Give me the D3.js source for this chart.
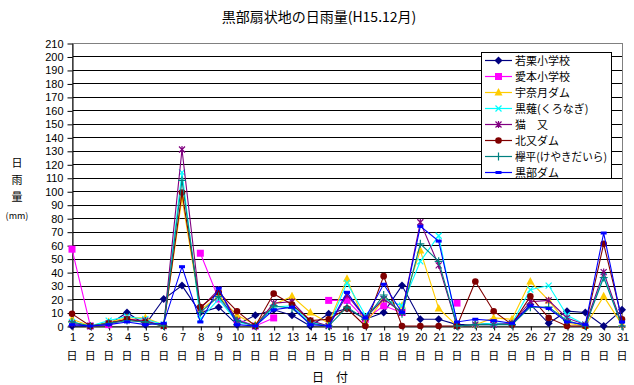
<!DOCTYPE html>
<html><head><meta charset="utf-8">
<script src="https://cdn.jsdelivr.net/npm/d3@7"></script>
<style>body{margin:0;background:#fff}svg{display:block}text{font-family:"Noto Sans CJK JP","Noto Sans",sans-serif;fill:#000}</style>
</head><body><svg id="c" width="634" height="385"></svg>
<script>
const days = [1,2,3,4,5,6,7,8,9,10,11,12,13,14,15,16,17,18,19,20,21,22,23,24,25,26,27,28,29,30,31];
const yTicks = [0,10,20,30,40,50,60,70,80,90,100,110,120,130,140,150,160,170,180,190,200,210];
const seriesNames = ["若栗小学校","愛本小学校","宇奈月ダム","黒薙(くろなぎ)","猫　又","北又ダム","欅平(けやきだいら)","黒部ダム"];
const wakaguri   = [0,0,1,10,1,20,30,10,14,1,8,12,8,0,9,13,5,10,30,5,5,1,1,2,1,16,2,11,10,0,12];
const aimoto     = [57,0,1,5,3,null,null,54,20,5,0,6,null,null,19,19,5,15,10,null,null,17,null,3,null,null,null,null,null,null,null];
const unazuki    = [5,0,3,6,6,1,95,12,22,8,1,16,22,10,2,35,2,20,15,56,13,0,1,6,5,33,19,2,0,22,1];
const kuronagi   = [3,0,4,7,5,1,114,5,20,3,0,14,15,3,0,32,8,20,15,48,67,0,1,2,2,27,30,8,1,37,1];
const nekomata   = [2,0,2,5,4,0,131,13,27,4,0,17,18,4,0,23,6,20,10,77,45,0,1,1,2,18,19,6,1,40,1];
const kitamata   = [9,0,2,5,3,0,99,14,25,11,0,24,16,4,5,13,0,37,0,0,0,0,33,11,1,22,6,0,0,61,5];
const keyakidaira= [3,0,2,4,3,0,108,10,22,4,0,15,13,2,0,14,5,23,9,61,48,0,1,1,1,14,14,4,0,36,0];
const kurobe     = [1,0,1,3,1,2,44,3,28,1,0,12,14,1,0,25,6,31,10,74,63,3,5,4,2,15,13,3,1,69,3];
const seriesValues = [wakaguri,aimoto,unazuki,kuronagi,nekomata,kitamata,keyakidaira,kurobe];
const colors = ["#000080","#FF00FF","#FFCC00","#00FFFF","#800080","#800000","#008080","#0000FF"];
const markers = ["diamond","square","triangle","x","star","circle","plus","dash"];

const svg = d3.select("#c");
const L=72,R=622,T=43,B=326;
const x = d3.scalePoint().domain(days).range([L,R]).padding(0);
const y = d3.scaleLinear().domain([0,210]).range([B,T]);

// title
svg.append("text").attr("x",319).attr("y",22).attr("text-anchor","middle").style("font-size","14px").text("黒部扇状地の日雨量(H15.12月)");

// gridlines
svg.append("g").selectAll("line").data(yTicks.filter(v=>v>0&&v<210)).join("line")
 .attr("x1",L).attr("x2",R).attr("y1",d=>Math.round(y(d))+0.5).attr("y2",d=>Math.round(y(d))+0.5)
 .attr("stroke","#000").attr("stroke-width",1);
// plot border
svg.append("rect").attr("x",L+0.5).attr("y",Math.round(T)+0.5).attr("width",R-L).attr("height",Math.round(B)-Math.round(T))
 .attr("fill","none").attr("stroke","#808080");

// y axis
const ya = svg.append("g").attr("transform",`translate(${L+0.5},0.5)`)
 .call(d3.axisLeft(y).tickValues(yTicks).tickSize(5).tickSizeOuter(0).tickPadding(4));
ya.select(".domain").attr("stroke","#000");
ya.selectAll("line").attr("stroke","#000");
ya.selectAll("text").style("font-size","11px").style("font-family","'Liberation Sans',Arial,sans-serif");

// x axis
const xa = svg.append("g").attr("transform",`translate(0.5,${Math.round(B)+0.5})`)
 .call(d3.axisBottom(x).tickSize(4).tickSizeOuter(0).tickPadding(3));
xa.select(".domain").attr("stroke","#000");
xa.selectAll("line").attr("stroke","#000");
xa.selectAll("text").style("font-size","11px").style("font-family","'Liberation Sans',Arial,sans-serif");
svg.append("g").selectAll("text").data(days).join("text")
 .attr("x",d=>x(d)).attr("y",360).attr("text-anchor","middle").style("font-size","11px").text("日");

// axis titles
svg.append("text").attr("x",330).attr("y",382).attr("text-anchor","middle").style("font-size","12px").text("日　付");
["日","雨","量"].forEach((t,i)=>svg.append("text").attr("x",17).attr("y",167+i*17).attr("text-anchor","middle").style("font-size","11px").text(t));
svg.append("text").attr("x",17).attr("y",219).attr("text-anchor","middle").style("font-size","9px").text("(mm)");

function drawMarker(g,type,cx,cy,col){
  if(type==="diamond") g.append("path").attr("d",`M${cx},${cy-4}L${cx+4},${cy}L${cx},${cy+4}L${cx-4},${cy}Z`).attr("fill",col);
  else if(type==="square") g.append("rect").attr("x",cx-3.5).attr("y",cy-3.5).attr("width",7).attr("height",7).attr("fill",col);
  else if(type==="triangle") g.append("path").attr("d",`M${cx},${cy-4.5}L${cx+4},${cy+3}L${cx-4},${cy+3}Z`).attr("fill",col);
  else if(type==="x") g.append("path").attr("d",`M${cx-3},${cy-3}L${cx+3},${cy+3}M${cx-3},${cy+3}L${cx+3},${cy-3}`).attr("stroke",col).attr("stroke-width",1.2);
  else if(type==="star") g.append("path").attr("d",`M${cx-3},${cy-3}L${cx+3},${cy+3}M${cx-3},${cy+3}L${cx+3},${cy-3}M${cx},${cy-3.5}L${cx},${cy+3.5}`).attr("stroke",col).attr("stroke-width",1.2);
  else if(type==="circle") g.append("circle").attr("cx",cx).attr("cy",cy).attr("r",3.3).attr("fill",col);
  else if(type==="plus") g.append("path").attr("d",`M${cx-4},${cy}L${cx+4},${cy}M${cx},${cy-4}L${cx},${cy+4}`).attr("stroke",col).attr("stroke-width",1.2);
  else if(type==="dash") g.append("rect").attr("x",cx-3).attr("y",cy-1.5).attr("width",6).attr("height",3).attr("fill",col);
}

const line = d3.line().defined(d=>d.v!=null).x(d=>x(d.d)).y(d=>y(d.v));
seriesValues.forEach((vals,i)=>{
  const pts = days.map((d,j)=>({d:d,v:vals[j]}));
  const g = svg.append("g");
  g.append("path").datum(pts).attr("d",line).attr("fill","none").attr("stroke",colors[i]).attr("stroke-width",1.1);
  pts.filter(p=>p.v!=null).forEach(p=>drawMarker(g,markers[i],x(p.d),y(p.v),colors[i]));
});

// legend
const lg = svg.append("g");
lg.append("rect").attr("x",481.5).attr("y",52.5).attr("width",130).attr("height",126).attr("fill","#fff").attr("stroke","#000");
seriesNames.forEach((n,i)=>{
  const cy = 60 + i*16;
  lg.append("line").attr("x1",485).attr("x2",512).attr("y1",cy+0.5).attr("y2",cy+0.5).attr("stroke",colors[i]).attr("stroke-width",1.2);
  drawMarker(lg,markers[i],498.5,cy+0.5,colors[i]);
  const t = lg.append("text").attr("x",515).attr("y",cy+4.5).style("font-size","11px").text(n);
  if(n.length>8) t.attr("textLength",92).attr("lengthAdjust","spacingAndGlyphs");
});
</script></body></html>
